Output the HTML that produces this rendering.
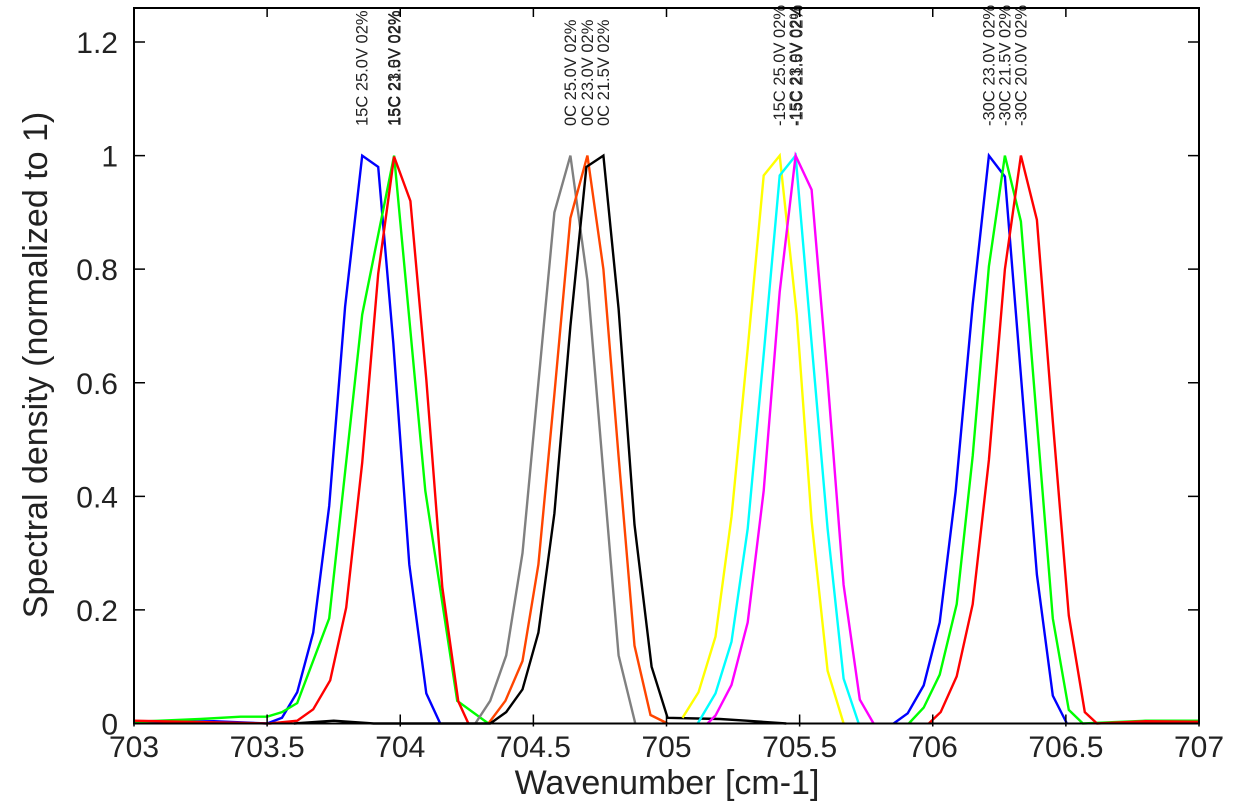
<!DOCTYPE html>
<html><head><meta charset="utf-8"><style>
html,body{margin:0;padding:0;background:#fff;}
svg{display:block;font-family:"Liberation Sans",sans-serif;}
</style></head><body>
<svg id="chart" width="1239" height="806" viewBox="0 0 1239 806" xmlns="http://www.w3.org/2000/svg">
<g id="series"></g>
<g id="labels"></g>
<g id="axes"></g>
</svg>
<script>
const xTicks = [703, 703.5, 704, 704.5, 705, 705.5, 706, 706.5, 707];
const xTickLabels = ["703","703.5","704","704.5","705","705.5","706","706.5","707"];
const yTicks = [0, 0.2, 0.4, 0.6, 0.8, 1, 1.2];
const yTickLabels = ["0","0.2","0.4","0.6","0.8","1","1.2"];

const g1BlueX = [703.0,703.3,703.5,703.556,703.613,703.673,703.733,703.793,703.857,703.917,703.974,704.034,704.098,704.150];
const g1BlueY = [0.002,0.004,0.0,0.01,0.055,0.16,0.383,0.734,1.0,0.98,0.67,0.28,0.053,0.0];
const g1GreenX = [703.0,703.25,703.40,703.50,703.556,703.613,703.733,703.857,703.977,704.094,704.214,704.331];
const g1GreenY = [0.003,0.008,0.012,0.012,0.02,0.036,0.185,0.72,1.0,0.41,0.04,0.0];
const g1RedX = [703.0,703.2,703.511,703.613,703.673,703.737,703.797,703.857,703.917,703.977,704.038,704.098,704.158,704.218,704.256];
const g1RedY = [0.005,0.003,0.0,0.005,0.025,0.076,0.204,0.459,0.792,0.998,0.92,0.606,0.24,0.039,0.0];

const g2GrayX = [704.282,704.338,704.398,704.459,704.519,704.579,704.639,704.703,704.763,704.820,704.883];
const g2GrayY = [0.0,0.04,0.12,0.3,0.6,0.9,1.0,0.78,0.44,0.12,0.0];
const g2OrangeX = [704.331,704.395,704.459,704.519,704.579,704.639,704.703,704.763,704.820,704.880,704.940,705.004];
const g2OrangeY = [0.0,0.04,0.11,0.28,0.58,0.89,1.0,0.8,0.47,0.137,0.015,0.0];
const g2BlackX = [703.6,703.75,703.9,704.338,704.398,704.459,704.519,704.579,704.639,704.699,704.763,704.820,704.880,704.944,705.004,705.2,705.3,705.45];
const g2BlackY = [0.0,0.005,0.0,0.0,0.02,0.06,0.16,0.37,0.7,0.98,1.0,0.73,0.35,0.1,0.01,0.008,0.005,0.0];

const g3YellowX = [705.060,705.120,705.184,705.244,705.305,705.365,705.425,705.489,705.545,705.605,705.665];
const g3YellowY = [0.01,0.055,0.153,0.364,0.66,0.965,1.0,0.72,0.357,0.093,0.0];
const g3CyanX = [705.117,705.184,705.244,705.305,705.365,705.425,705.485,705.545,705.605,705.665,705.722];
const g3CyanY = [0.0,0.053,0.144,0.343,0.65,0.965,1.0,0.67,0.343,0.079,0.0];
const g3MagentaX = [705.154,705.184,705.244,705.305,705.365,705.425,705.485,705.545,705.605,705.665,705.726,705.778];
const g3MagentaY = [0.0,0.014,0.068,0.178,0.41,0.76,1.0,0.94,0.606,0.244,0.042,0.0];

const g4BlueX = [705.853,705.906,705.966,706.026,706.086,706.150,706.211,706.271,706.331,706.391,706.451,706.504];
const g4BlueY = [0.0,0.018,0.067,0.178,0.408,0.738,1.0,0.963,0.613,0.262,0.049,0.0];
const g4GreenX = [705.910,705.966,706.026,706.090,706.150,706.211,706.271,706.331,706.391,706.451,706.511,706.564,706.8,707.0];
const g4GreenY = [0.0,0.028,0.086,0.21,0.471,0.805,1.0,0.884,0.532,0.185,0.024,0.0,0.005,0.005];
const g4RedX = [705.985,706.030,706.090,706.150,706.211,706.271,706.331,706.391,706.451,706.511,706.571,706.617,706.8,707.0];
const g4RedY = [0.0,0.02,0.083,0.21,0.464,0.8,1.0,0.887,0.532,0.19,0.02,0.0,0.004,0.003];

const labelTexts = ["15C 25.0V 02%","15C 23.0V 02%","15C 21.5V 02%","0C 25.0V 02%","0C 23.0V 02%","0C 21.5V 02%","-15C 25.0V 02%","-15C 23.0V 02%","-15C 21.5V 02%","-30C 23.0V 02%","-30C 21.5V 02%","-30C 20.0V 02%"];
const labelXs = [703.857,703.977,703.980,704.639,704.703,704.763,705.425,705.485,705.490,706.211,706.271,706.331];

const X0=134, X1=1199, Y0=723.5, Y1=42;
function sx(v){return X0+(v-703)/(707-703)*(X1-X0);}
function sy(v){return Y0-(v/1.2)*(Y0-Y1);}
const NS="http://www.w3.org/2000/svg";

const seriesList = [
 ["g1-blue-line",g1BlueX,g1BlueY,"#0000ff"],
 ["g1-green-line",g1GreenX,g1GreenY,"#00ff00"],
 ["g1-red-line",g1RedX,g1RedY,"#ff0000"],
 ["g2-gray-line",g2GrayX,g2GrayY,"#808080"],
 ["g2-orange-line",g2OrangeX,g2OrangeY,"#ff4500"],
 ["g2-black-line",g2BlackX,g2BlackY,"#000000"],
 ["g3-yellow-line",g3YellowX,g3YellowY,"#ffff00"],
 ["g3-cyan-line",g3CyanX,g3CyanY,"#00ffff"],
 ["g3-magenta-line",g3MagentaX,g3MagentaY,"#ff00ff"],
 ["g4-blue-line",g4BlueX,g4BlueY,"#0000ff"],
 ["g4-green-line",g4GreenX,g4GreenY,"#00ff00"],
 ["g4-red-line",g4RedX,g4RedY,"#ff0000"]
];
const sg=document.getElementById("series");
seriesList.forEach(s=>{
  const p=document.createElementNS(NS,"polyline");
  
  
  p.setAttribute("points", s[1].map((x,i)=>sx(x).toFixed(1)+","+sy(s[2][i]).toFixed(1)).join(" "));
  p.setAttribute("fill","none");
  p.setAttribute("stroke",s[3]);
  p.setAttribute("stroke-width","2.4");
  p.setAttribute("stroke-linejoin","miter");
  sg.appendChild(p);
});

const lg=document.getElementById("labels");
labelTexts.forEach((t,i)=>{
  const tx=document.createElementNS(NS,"text");
  
  
  const x=sx(labelXs[i])+5.5, y=126;
  tx.setAttribute("transform","translate("+x.toFixed(1)+","+y+") rotate(-90)");
  tx.setAttribute("font-size","16.5");
  tx.setAttribute("fill","#222");
  tx.textContent=t;
  lg.appendChild(tx);
});

const ag=document.getElementById("axes");
const frame=document.createElementNS(NS,"rect");


frame.setAttribute("x",X0);frame.setAttribute("y",8);
frame.setAttribute("width",X1-X0);frame.setAttribute("height",Y0-8);
frame.setAttribute("fill","none");frame.setAttribute("stroke","#000");frame.setAttribute("stroke-width","2");
ag.appendChild(frame);
xTicks.forEach((v,i)=>{
  const x=sx(v);
  const t1=document.createElementNS(NS,"path");
  
  
  t1.setAttribute("d","M"+x+","+(Y0+3)+"v-12M"+x+",8v9");
  t1.setAttribute("stroke","#000");t1.setAttribute("stroke-width","1.5");
  ag.appendChild(t1);
  const lb=document.createElementNS(NS,"text");
  
  
  lb.setAttribute("x",x);lb.setAttribute("y",757);
  lb.setAttribute("text-anchor","middle");lb.setAttribute("font-size","30");lb.setAttribute("fill","#222");
  lb.textContent=xTickLabels[i];
  ag.appendChild(lb);
});
yTicks.forEach((v,i)=>{
  const y=sy(v);
  const t1=document.createElementNS(NS,"path");
  
  
  t1.setAttribute("d","M"+X0+","+y+"h11M"+X1+","+y+"h-11");
  t1.setAttribute("stroke","#000");t1.setAttribute("stroke-width","1.5");
  ag.appendChild(t1);
  const lb=document.createElementNS(NS,"text");
  
  
  lb.setAttribute("x",118);lb.setAttribute("y",y+11);
  lb.setAttribute("text-anchor","end");lb.setAttribute("font-size","30");lb.setAttribute("fill","#222");
  lb.textContent=yTickLabels[i];
  ag.appendChild(lb);
});
</script>
<svg style="position:absolute;left:0;top:0" width="1239" height="806">
<text x="667" y="794" text-anchor="middle" font-family="Liberation Sans, sans-serif" font-size="34" fill="#222">Wavenumber [cm-1]</text>
<text transform="translate(47,365) rotate(-90)" text-anchor="middle" font-family="Liberation Sans, sans-serif" font-size="34" fill="#222">Spectral density (normalized to 1)</text>
</svg>
</body></html>
